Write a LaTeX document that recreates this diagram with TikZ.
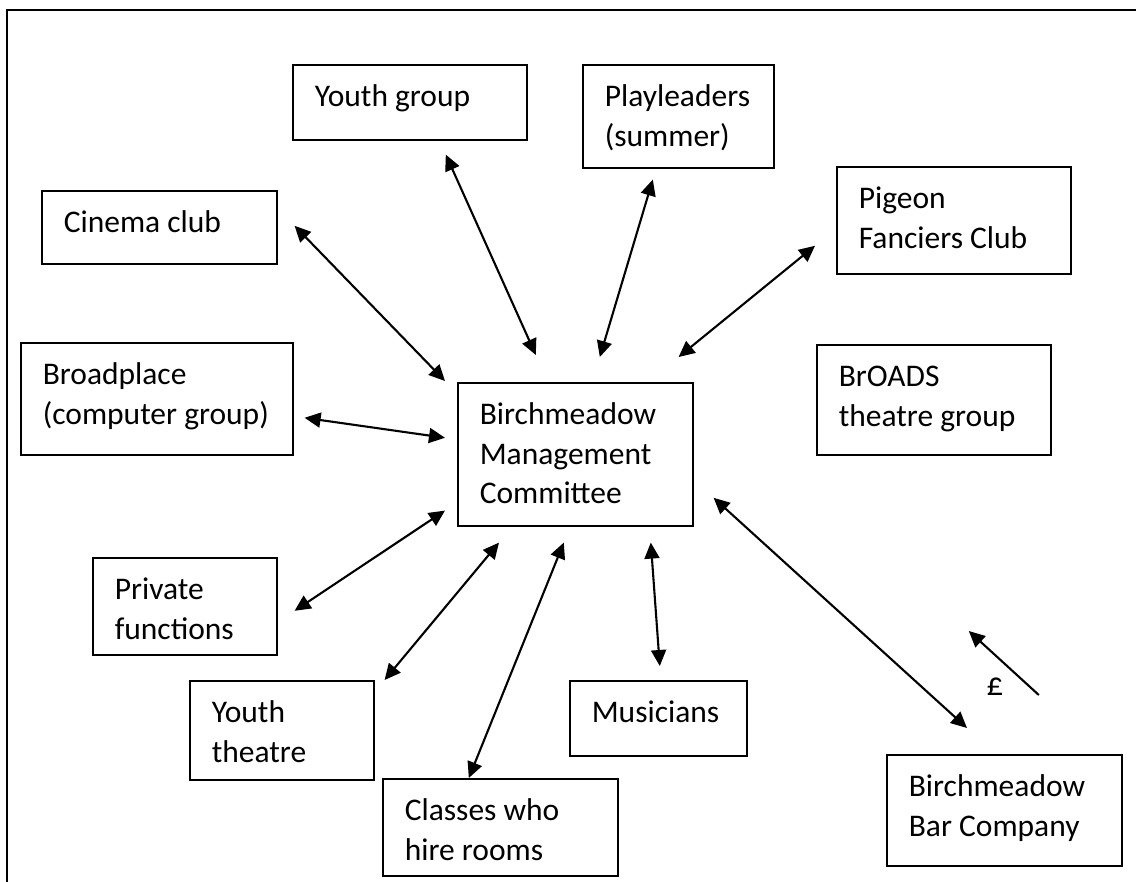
\documentclass[tikz,border=0pt]{standalone}
\usepackage{fontspec}
\setmainfont{Carlito}
\usetikzlibrary{arrows.meta}
\newcommand\bxt[3]{\vbox to #2{\hsize=#1\relax\parindent=0pt\parskip=0pt\leftskip=22pt\rightskip=0pt plus 1fil\baselineskip=39.5pt\lineskiplimit=-100pt\hbox{}\vskip2.5pt\relax#3\par\vss}}
\tikzset{
  box/.style={draw, line width=1.6pt, inner sep=0pt, anchor=north west, font=\fontsize{31.5pt}{39.5pt}\selectfont},
  conn/.style={{Triangle[length=16pt,width=15pt]}-{Triangle[length=16pt,width=15pt]}, line width=2.1pt},
  oneway/.style={-{Triangle[length=16pt,width=15pt]}, line width=2.1pt},
  frame/.style={line width=2.4pt},
  lbl/.style={inner sep=0pt, anchor=base, font=\fontsize{33pt}{39.5pt}\selectfont}
}
\begin{document}
\begin{tikzpicture}[x=1pt,y=-1pt]
\useasboundingbox (0,0) rectangle (1136,882);
\fill[white] (0,0) rectangle (1136,882);
\draw[frame] (7,890) -- (7,10) -- (1145,10);

\node[box] (yg) at (292,64) {\bxt{234pt}{75pt}{Youth group}};
\node[box] (pl) at (582,64) {\bxt{191pt}{103pt}{Playleaders\par (summer)}};
\node[box] (cin) at (41,190) {\bxt{235pt}{73pt}{Cinema club}};
\node[box] (pg) at (836,166) {\bxt{234pt}{107pt}{Pigeon\par Fanciers Club}};
\node[box] (bp) at (20,342) {\bxt{272pt}{112pt}{Broadplace\par (computer group)}};
\node[box] (mg) at (457,382) {\bxt{235pt}{143pt}{Birchmeadow\par Management\par Committee}};
\node[box] (br) at (816,344) {\bxt{234pt}{110pt}{BrOADS\par theatre group}};
\node[box] (pf) at (92,557) {\bxt{184pt}{97pt}{Private\par functions}};
\node[box] (yt) at (189,680) {\bxt{184pt}{99pt}{Youth\par theatre}};
\node[box] (cl) at (382,778) {\bxt{235pt}{97pt}{Classes who\par hire rooms}};
\node[box] (mu) at (569,680) {\bxt{177pt}{75pt}{Musicians}};
\node[box] (bar) at (886,754) {\bxt{235pt}{111pt}{Birchmeadow\par Bar Company}};

\draw[conn] ([shift={(17,-1.5)}]cin.east) -- ([shift={(-12,-1)}]mg.north west);
\draw[conn] ([shift={(36,14)}]yg.south) -- ([shift={(-39.5,-27)}]mg.north);
\draw[conn] ([shift={(-25.5,11)}]pl.south) -- ([shift={(24.5,-25)}]mg.north);
\draw[conn] ([shift={(-21,25.5)}]pg.west) -- ([shift={(-15,-25)}]mg.north east);
\draw[conn] ([shift={(11,19)}]bp.east) -- ([shift={(-12,-16.5)}]mg.west);
\draw[conn] ([shift={(17,4.5)}]pf.east) -- ([shift={(-12,-16)}]mg.south west);
\draw[conn] ([shift={(10,0)}]yt.north east) -- ([shift={(42,16)}]mg.south west);
\draw[conn] ([shift={(-31.5,0)}]cl.north) -- ([shift={(-11.5,16)}]mg.south);
\draw[conn] ([shift={(1.5,-14)}]mu.north) -- ([shift={(75.5,16)}]mg.south);
\draw[conn] ([shift={(81,-26)}]bar.north west) -- ([shift={(20,43.5)}]mg.east);

\coordinate (ptail) at ([shift={(34.5,-59)}]bar.north);
\coordinate (ptip) at ([shift={(-35.5,-123)}]bar.north);
\draw[oneway] (ptail) -- (ptip);
\node[lbl] (pound) at (995,695) {£};
\end{tikzpicture}
\end{document}
